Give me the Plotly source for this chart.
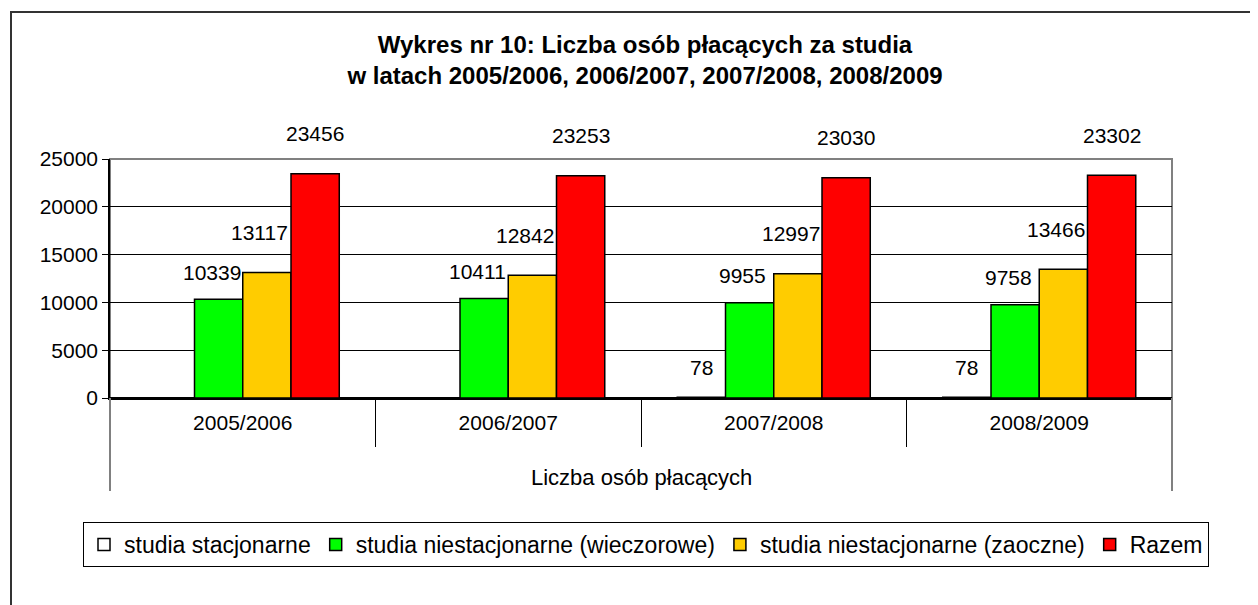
import plotly.graph_objects as go

categories = ["2005/2006", "2006/2007", "2007/2008", "2008/2009"]
group_label = "Liczba osób płacących"
series_names = [
    "studia stacjonarne",
    "studia niestacjonarne (wieczorowe)",
    "studia niestacjonarne (zaoczne)",
    "Razem",
]
stacjonarne = [None, None, 78, 78]
wieczorowe = [10339, 10411, 9955, 9758]
zaoczne = [13117, 12842, 12997, 13466]
razem = [23456, 23253, 23030, 23302]
y_ticks = [0, 5000, 10000, 15000, 20000, 25000]

series_values = [stacjonarne, wieczorowe, zaoczne, razem]
colors = ["#FFFFFF", "#00FF00", "#FFCC00", "#FF0000"]

# page shows the figure with an 8px body margin
W, H = 1250, 597
ML, MR, MT, MB = 102, 86, 151, 207
plot_w = W - ML - MR
plot_h = H - MT - MB
FONT = "Liberation Sans, Arial, sans-serif"
FS = 21

fig = go.Figure()
for name, vals, col in zip(series_names, series_values, colors):
    fig.add_trace(go.Bar(
        name=name, x=categories, y=vals,
        marker=dict(color=col, line=dict(color="#000000", width=1.5)),
    ))

# data labels
bargap = 0.273
cat_w = plot_w / len(categories)
bar_w = cat_w * (1 - bargap) / len(series_names)
label_dx = [0, -7, -7, 0]
label_dy = [30, 27, 40, 40]
annotations = []
for si, vals in enumerate(series_values):
    off = (si - (len(series_names) - 1) / 2) * bar_w
    for c, v in zip(categories, vals):
        if v is None:
            continue
        annotations.append(dict(
            x=c, y=v, xref="x", yref="y", text=str(v), showarrow=False,
            xshift=off + label_dx[si], yshift=label_dy[si],
            font=dict(family=FONT, size=FS, color="#000000"),
        ))


def px_to_paper_x(px):
    return (px - ML) / plot_w


def px_to_paper_y(py):
    return (MT + plot_h - py) / plot_h


annotations.append(dict(
    x=0.5, y=px_to_paper_y(469), xref="paper", yref="paper",
    text=group_label, showarrow=False, yanchor="middle",
    font=dict(family=FONT, size=22, color="#000000"),
))

shapes = [
    # plot area border (gray)
    dict(type="rect", xref="paper", yref="paper", x0=0, x1=1, y0=0, y1=1,
         line=dict(color="#808080", width=2), layer="below"),
    # outer extension lines of category axis
    dict(type="line", xref="paper", yref="paper", x0=0, x1=0, y0=0,
         y1=px_to_paper_y(483), line=dict(color="#808080", width=2)),
    dict(type="line", xref="paper", yref="paper", x0=1, x1=1, y0=0,
         y1=px_to_paper_y(483), line=dict(color="#808080", width=2)),
    # outer frame of the chart
    dict(type="rect", xref="paper", yref="paper",
         x0=px_to_paper_x(3), x1=px_to_paper_x(1246),
         y0=px_to_paper_y(640), y1=px_to_paper_y(4),
         line=dict(color="#333333", width=2)),
]

fig.update_layout(
    width=W, height=H,
    margin=dict(l=ML, r=MR, t=MT, b=MB, autoexpand=False),
    paper_bgcolor="#FFFFFF", plot_bgcolor="#FFFFFF",
    barmode="group", bargap=bargap, bargroupgap=0,
    font=dict(family=FONT, size=FS, color="#000000"),
    title=dict(
        text="<b>Wykres nr 10: Liczba osób płacących za studia<br>w latach 2005/2006, 2006/2007, 2007/2008, 2008/2009</b>",
        x=637 / W, xref="container", xanchor="center",
        y=1 - 44.5 / H, yref="container", yanchor="middle",
        font=dict(family=FONT, size=24, color="#000000"),
    ),
    xaxis=dict(
        type="category", showgrid=False,
        showline=True, linecolor="#000000", linewidth=1.5,
        ticks="outside", tickson="boundaries", ticklen=47, tickcolor="#000000",
        tickwidth=1,
        ticklabelstandoff=5,
        tickfont=dict(family=FONT, size=FS, color="#000000"),
        fixedrange=True,
    ),
    yaxis=dict(
        range=[0, 25000], tickvals=y_ticks, ticktext=[str(t) for t in y_ticks],
        showgrid=True, gridcolor="#000000", gridwidth=1,
        zeroline=True, zerolinecolor="#000000", zerolinewidth=1.5,
        showline=True, linecolor="#000000", linewidth=1.5,
        ticks="outside", ticklen=6, tickcolor="#000000",
        tickfont=dict(family=FONT, size=FS, color="#000000"),
        fixedrange=True,
    ),
    showlegend=True,
    legend=dict(
        orientation="h", xref="paper", yref="paper",
        x=px_to_paper_x(1201), xanchor="right",
        y=px_to_paper_y(514), yanchor="top",
        bordercolor="#000000", borderwidth=1, bgcolor="#FFFFFF",
        font=dict(family=FONT, size=23, color="#000000"),
        itemwidth=30, tracegroupgap=0,
    ),
    annotations=annotations,
    shapes=shapes,
)

fig.write_html("out.html")
